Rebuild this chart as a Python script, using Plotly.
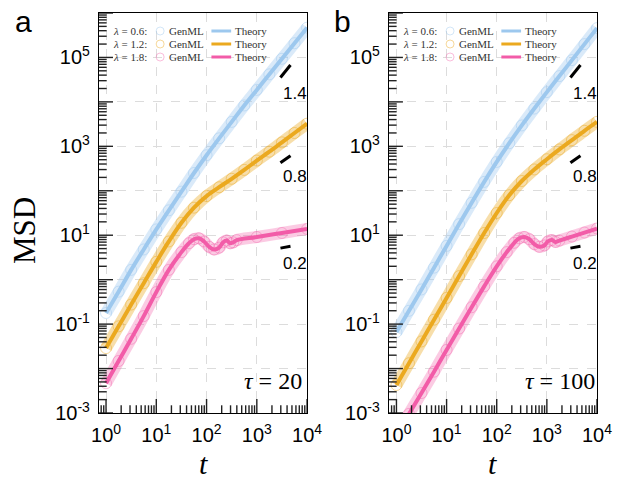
import numpy as np
import plotly.graph_objects as go

# ---------------- data (log10 values) ----------------
logt_grid = [0.0, 0.25, 0.5, 0.75, 1.0, 1.25, 1.5, 1.75, 2.0, 2.25, 2.5, 2.75, 3.0, 3.25, 3.5, 3.75, 4.0]

# panel a : tau = 20
blue_a = [-0.75, -0.27, 0.22, 0.68, 1.13, 1.56, 1.98, 2.40, 2.80, 3.18, 3.55, 3.92, 4.27, 4.62, 4.97, 5.32, 5.67]
orange_a = [-1.54, -1.05, -0.56, -0.08, 0.40, 0.86, 1.28, 1.62, 1.88, 2.08, 2.27, 2.47, 2.68, 2.88, 3.09, 3.30, 3.51]
logt_pink_a = [0.0, 0.25, 0.5, 0.75, 1.0, 1.25, 1.5, 1.65, 1.75, 1.85, 1.95, 2.05, 2.15, 2.25, 2.33, 2.4, 2.47, 2.53, 2.6, 3.0, 3.5, 4.0]
pink_a = [-2.33, -1.83, -1.33, -0.82, -0.28, 0.22, 0.62, 0.82, 0.91, 0.93, 0.86, 0.74, 0.68, 0.72, 0.84, 0.88, 0.82, 0.84, 0.89, 0.96, 1.05, 1.14]

# panel b : tau = 100
blue_b = [-1.18, -0.70, -0.22, 0.27, 0.76, 1.25, 1.73, 2.20, 2.65, 3.07, 3.47, 3.85, 4.22, 4.58, 4.94, 5.30, 5.66]
orange_b = [-2.37, -1.88, -1.39, -0.90, -0.41, 0.08, 0.57, 1.05, 1.50, 1.90, 2.22, 2.48, 2.71, 2.93, 3.14, 3.35, 3.55]
logt_pink_b = [0.0, 0.25, 0.5, 0.75, 1.0, 1.25, 1.5, 1.75, 2.0, 2.2, 2.35, 2.45, 2.55, 2.65, 2.75, 2.85, 2.95, 3.02, 3.1, 3.17, 3.25, 3.5, 3.75, 4.0]
pink_b = [-3.5, -3.02, -2.55, -2.07, -1.58, -1.10, -0.62, -0.15, 0.30, 0.62, 0.83, 0.93, 0.96, 0.91, 0.80, 0.74, 0.77, 0.86, 0.89, 0.85, 0.88, 0.97, 1.06, 1.15]

lambdas = ["0.6", "1.2", "1.8"]
slopes = [1.4, 0.8, 0.2]
taus = ["20", "100"]
x_ticks = [0, 1, 2, 3, 4]
y_ticks = [-3, -2, -1, 0, 1, 2, 3, 4, 5, 6]

# ---------------- styles ----------------
line_cols = ["#9DC8EE", "#EBA91F", "#F25CA8"]
band_cols = ["rgba(157,200,238,0.38)", "rgba(235,169,31,0.38)", "rgba(242,92,168,0.32)"]
mark_cols = ["rgba(157,200,238,0.45)", "rgba(235,169,31,0.45)", "rgba(242,92,168,0.40)"]
SERIF = "Liberation Serif, Times New Roman, serif"
SANS = "Liberation Sans, Arial, sans-serif"

W, H = 624, 485
ML, MR, MT, MB = 99, 20, 13, 72
PW, PH = W - ML - MR, H - MT - MB


def px(x):
    return (x - ML) / PW


def py(y):
    return (MT + PH - y) / PH


xr_a, xr_b, yr = [-0.14, 4], [-0.15, 4], [-3, 6]

fig = go.Figure()

panels = [
    (logt_grid, blue_a, logt_grid, orange_a, logt_pink_a, pink_a),
    (logt_grid, blue_b, logt_grid, orange_b, logt_pink_b, pink_b),
]

for p, data in enumerate(panels):
    xa = "x" if p == 0 else "x2"
    ya = "y" if p == 0 else "y2"
    series = [(data[0], data[1]), (data[2], data[3]), (data[4], data[5])]
    for i, (lt, lm) in enumerate(series):
        t = 10 ** np.array(lt)
        m = 10 ** np.array(lm)
        fig.add_trace(go.Scatter(
            x=t, y=m, mode="lines+markers", xaxis=xa, yaxis=ya, showlegend=False,
            name=f"GenML λ={lambdas[i]}",
            line=dict(color=band_cols[i], width=12, shape="spline"),
            marker=dict(symbol="circle-open", size=11, color=mark_cols[i], line=dict(width=1)),
        ))
    for i, (lt, lm) in enumerate(series):
        t = 10 ** np.array(lt)
        m = 10 ** np.array(lm)
        fig.add_trace(go.Scatter(
            x=t, y=m, mode="lines", xaxis=xa, yaxis=ya, showlegend=False,
            name=f"Theory λ={lambdas[i]}",
            line=dict(color=line_cols[i], width=4, shape="spline"),
        ))

# slope indicators
slope_mark_logt = [3.47, 3.67]
slope_mark_center = [4.69, 2.71, 0.73]
slope_label_pos = [4.19, 2.33, 0.37]
for p in range(2):
    xa = "x" if p == 0 else "x2"
    ya = "y" if p == 0 else "y2"
    for s, c in zip(slopes, slope_mark_center):
        lx = np.array(slope_mark_logt)
        ly = c + s * (lx - lx.mean())
        fig.add_trace(go.Scatter(x=10 ** lx, y=10 ** ly, mode="lines", xaxis=xa, yaxis=ya,
                                 showlegend=False, line=dict(color="black", width=3)))


# inside tick marks (the outer half of each marker is clipped by the plot area)
def minor_vals(lo, hi, vmin, vmax):
    v = [m * 10.0 ** k for k in range(lo, hi) for m in range(2, 10)]
    return [a for a in v if vmin <= a <= vmax]


for p, xrng in enumerate([xr_a, xr_b]):
    xa = "x" if p == 0 else "x2"
    ya = "y" if p == 0 else "y2"
    xmin, xmax = 10 ** xrng[0], 10 ** xrng[1]
    ymin, ymax = 10.0 ** yr[0], 10.0 ** yr[1]
    xmaj = [10.0 ** k for k in x_ticks]
    xmin_t = minor_vals(-1, 4, xmin, xmax)
    ymaj = [10.0 ** k for k in y_ticks]
    ymin_t = minor_vals(-3, 6, ymin, ymax)
    for vals, size in [(xmaj, 20), (xmin_t, 11)]:
        fig.add_trace(go.Scatter(x=vals, y=[ymin] * len(vals), mode="markers", xaxis=xa, yaxis=ya,
                                 showlegend=False, hoverinfo="skip", cliponaxis=True,
                                 marker=dict(symbol="line-ns", size=size, color="#222",
                                             line=dict(width=1.4, color="#222"))))
    for vals, size in [(ymaj, 20), (ymin_t, 11)]:
        fig.add_trace(go.Scatter(x=[xmin] * len(vals), y=vals, mode="markers", xaxis=xa, yaxis=ya,
                                 showlegend=False, hoverinfo="skip", cliponaxis=True,
                                 marker=dict(symbol="line-ew", size=size, color="#222",
                                             line=dict(width=1.4, color="#222"))))

axis_common = dict(
    type="log", ticks="", showline=True, linecolor="black", linewidth=1.2, mirror=True,
    showgrid=True, gridcolor="#dcdcdc", griddash="dash", gridwidth=1, zeroline=False,
    tickfont=dict(family=SANS, size=20, color="black"), ticklabelstandoff=4,
)
xtv = [10 ** k for k in x_ticks]
xtt = [f"10<sup>{k}</sup>" for k in x_ticks]
ytv = [10.0 ** k for k in y_ticks]
ytt = [f"10<sup>{k}</sup>" if k % 2 else "" for k in y_ticks]

dom_a = [0, px(310)]
dom_b = [px(393), 1]
fig.update_layout(
    xaxis=dict(axis_common, domain=dom_a, range=xr_a, tickvals=xtv, ticktext=xtt, anchor="y"),
    xaxis2=dict(axis_common, domain=dom_b, range=xr_b, tickvals=xtv, ticktext=xtt, anchor="y2"),
    yaxis=dict(axis_common, domain=[0, 1], range=yr, tickvals=ytv, ticktext=ytt, anchor="x"),
    yaxis2=dict(axis_common, domain=[0, 1], range=yr, tickvals=ytv, ticktext=ytt, anchor="x2"),
)

ann = []
shapes = []
# slope labels
for p in range(2):
    xr = "x" if p == 0 else "x2"
    yrr = "y" if p == 0 else "y2"
    for s, yl in zip(slopes, slope_label_pos):
        ann.append(dict(x=3.76, y=yl, xref=xr, yref=yrr, text=f"{s}", showarrow=False,
                        font=dict(family=SANS, size=17, color="black"), xanchor="center", yanchor="middle"))

# tau labels
for p, tx in enumerate([307, 604]):
    ann.append(dict(x=px(tx), y=py(381), xref="paper", yref="paper", showarrow=False,
                    text=f"<i>τ</i> = {taus[p]}", xanchor="right", yanchor="middle",
                    font=dict(family=SERIF, size=24, color="black")))

# axis titles
for cx in [204.5, 498.5]:
    ann.append(dict(x=px(cx), y=py(463), xref="paper", yref="paper", showarrow=False,
                    text="<i>t</i>", xanchor="center", yanchor="middle",
                    font=dict(family=SERIF, size=30, color="black")))
ann.append(dict(x=px(24), y=py(231), xref="paper", yref="paper", showarrow=False,
                text="MSD", textangle=-90, xanchor="center", yanchor="middle",
                font=dict(family=SERIF, size=31, color="black")))
# panel letters
for lab, cx in [("a", 22), ("b", 346)]:
    ann.append(dict(x=px(cx), y=py(21), xref="paper", yref="paper", showarrow=False,
                    text=lab, xanchor="center", yanchor="middle",
                    font=dict(family=SANS, size=30, color="black")))

# manual legends
rows = [31, 44, 57]
for p, dx in enumerate([0, 294]):
    for i, ry in enumerate(rows):
        ann.append(dict(x=px(150 + dx), y=py(ry), xref="paper", yref="paper", showarrow=False,
                        text=f"<i>λ</i> = {lambdas[i]}:", xanchor="right", yanchor="middle",
                        font=dict(family=SERIF, size=11, color="#333")))
        shapes.append(dict(type="circle", xref="paper", yref="paper", xsizemode="pixel", ysizemode="pixel",
                           xanchor=px(161 + dx), yanchor=py(ry), x0=-4, x1=4, y0=-4, y1=4,
                           line=dict(color=mark_cols[i], width=1)))
        ann.append(dict(x=px(168 + dx), y=py(ry), xref="paper", yref="paper", showarrow=False,
                        text="GenML", xanchor="left", yanchor="middle",
                        font=dict(family=SERIF, size=11, color="#333")))
        shapes.append(dict(type="line", xref="paper", yref="paper", x0=px(213 + dx), x1=px(233 + dx),
                           y0=py(ry), y1=py(ry), line=dict(color=line_cols[i], width=3)))
        ann.append(dict(x=px(235 + dx), y=py(ry), xref="paper", yref="paper", showarrow=False,
                        text="Theory", xanchor="left", yanchor="middle",
                        font=dict(family=SERIF, size=11, color="#333")))

fig.update_layout(
    width=W, height=H, margin=dict(l=ML, r=MR, t=MT, b=MB),
    paper_bgcolor="white", plot_bgcolor="white",
    annotations=ann, shapes=shapes, showlegend=False,
)

fig.write_html("out.html", config={"displayModeBar": False},
               post_script="document.body.style.margin='0px';")
